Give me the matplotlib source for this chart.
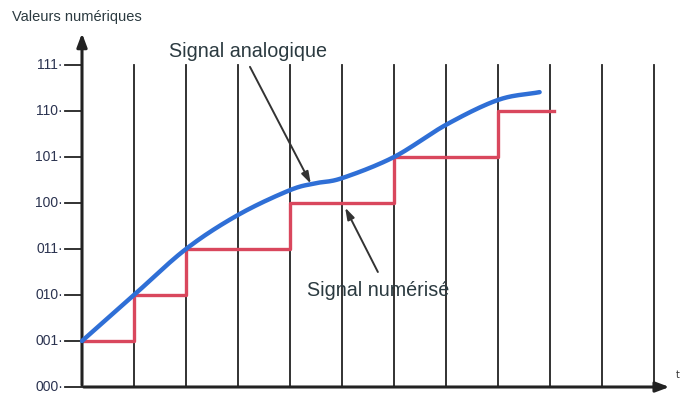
import numpy as np
import matplotlib.pyplot as plt

# niveaux numériques (axe y)
levels = ["000", "001", "010", "011", "100", "101", "110", "111"]

# signal analogique
t_ana = [0, 1, 2, 3, 4, 4.5, 5, 6, 7, 8, 8.8]
v_ana = [1.0, 2.0, 3.0, 3.74, 4.28, 4.43, 4.54, 5.0, 5.7, 6.24, 6.41]

# signal numérisé (marches)
t_num = [0, 1, 2, 4, 6, 8, 9.07]
v_num = [1, 2, 3, 4, 5, 6, 6]

# traits verticaux d'échantillonnage
t_grid = [1, 2, 3, 4, 5, 6, 7, 8, 9, 10, 11]

fig = plt.figure(figsize=(6.86, 3.95), dpi=100)
px = 52.0
py = 46.0
x0, y0 = 82, 387
ax = fig.add_axes([0, 0, 1, 1])
ax.set_xlim(-x0 / px, (686 - x0) / px)
ax.set_ylim(-(395 - y0) / py, y0 / py)
ax.axis("off")

for t in t_grid:
    ax.plot([t, t], [0, 7], color="#222222", lw=1.3)

# interpolation lisse (Catmull-Rom)
def catmull(x, y, n=20):
    x = np.asarray(x, float); y = np.asarray(y, float)
    xs = np.r_[2 * x[0] - x[1], x, 2 * x[-1] - x[-2]]
    ys = np.r_[2 * y[0] - y[1], y, 2 * y[-1] - y[-2]]
    ox, oy = [], []
    for i in range(1, len(x)):
        s = np.linspace(0, 1, n)
        for arr, out in ((xs, ox), (ys, oy)):
            p0, p1, p2, p3 = arr[i - 1], arr[i], arr[i + 1], arr[i + 2]
            out.extend(0.5 * ((2 * p1) + (-p0 + p2) * s + (2 * p0 - 5 * p1 + 4 * p2 - p3) * s ** 2
                              + (-p0 + 3 * p1 - 3 * p2 + p3) * s ** 3))
    return ox, oy

cx, cy = catmull(t_ana, v_ana)
ax.step(t_num, v_num, where="post", color="#d9475d", lw=2.4, zorder=3)
ax.plot(cx, cy, color="#2f6fd6", lw=3.2, zorder=4, solid_capstyle="round")

# axes avec flèches
ax.annotate("", xy=(0, 7.75), xytext=(0, -0.02),
            arrowprops=dict(arrowstyle="-|>,head_length=0.8,head_width=0.3", color="#222222", lw=2.2))
ax.annotate("", xy=(11.35, 0), xytext=(-0.02, 0),
            arrowprops=dict(arrowstyle="-|>,head_length=0.8,head_width=0.3", color="#222222", lw=2.2))

for i, lab in enumerate(levels):
    ax.plot([-0.33, 0], [i, i], color="#222222", lw=1.3)
    ax.text(-0.37, i, lab + "·", ha="right", va="center", fontsize=10,
            color="#2b3350", family="Liberation Sans")

ax.text(12 / px - x0 / px, (387 - 17) / py, "Valeurs numériques", ha="left", va="center",
        fontsize=10.5, color="#2b3a40", family="Liberation Sans")
ax.text(11.42, 0.27, "t", ha="left", va="center", fontsize=7, color="#333333")

arrow = dict(arrowstyle="-|>,head_length=0.7,head_width=0.22", color="#333333", lw=1.4,
             shrinkA=0, shrinkB=0)
ax.text(3.2, 7.29, "Signal analogique", ha="center", va="center", fontsize=14.2,
        color="#2b3a40", family="Liberation Sans")
ax.annotate("", xy=(4.4, 4.42), xytext=(3.23, 6.96), arrowprops=arrow)
ax.text(5.69, 2.1, "Signal numérisé", ha="center", va="center", fontsize=14.2,
        color="#2b3a40", family="Liberation Sans")
ax.annotate("", xy=(5.06, 3.9), xytext=(5.69, 2.5), arrowprops=arrow)

fig.savefig("out.png", dpi=100)
